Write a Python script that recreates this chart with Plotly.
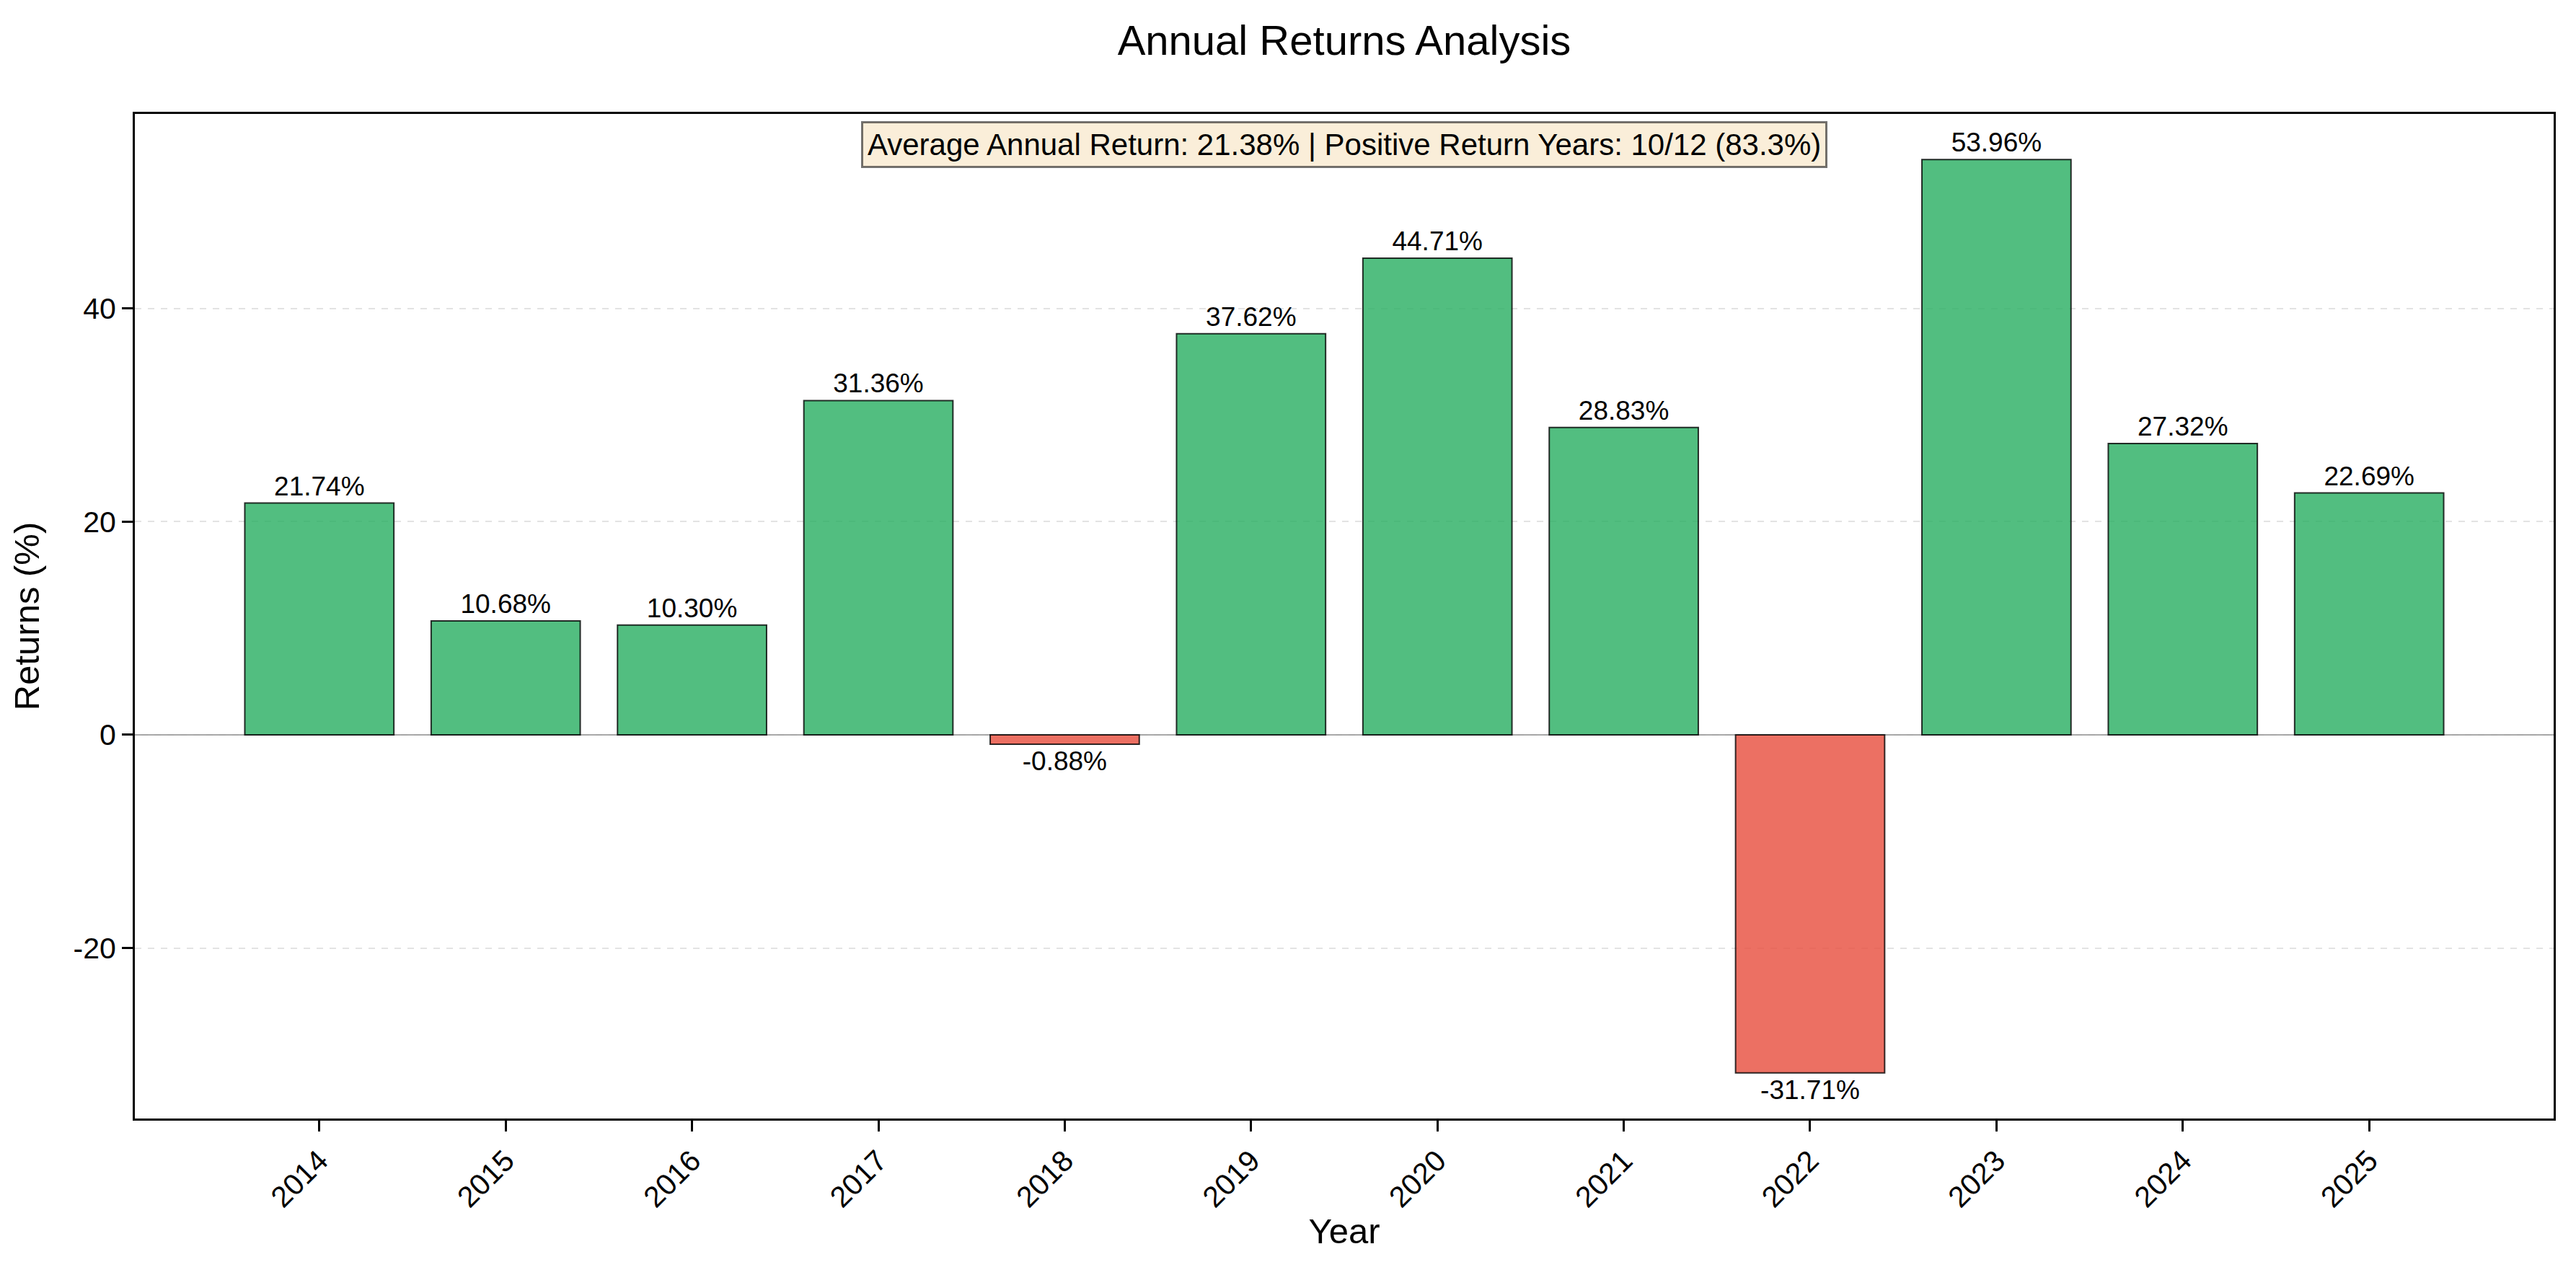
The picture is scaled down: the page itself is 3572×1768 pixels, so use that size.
import plotly.graph_objects as go

years = ["2014", "2015", "2016", "2017", "2018", "2019", "2020", "2021", "2022", "2023", "2024", "2025"]
returns = [21.74, 10.68, 10.30, 31.36, -0.88, 37.62, 44.71, 28.83, -31.71, 53.96, 27.32, 22.69]
ytick_vals = [-20, 0, 20, 40]
avg_return = 21.38
positive_years = 10

summary = (f"Average Annual Return: {avg_return:.2f}% | Positive Return Years: "
           f"{positive_years}/{len(returns)} ({positive_years/len(returns)*100:.1f}%)")

GREEN = "rgba(39,174,96,0.8)"
RED = "rgba(231,76,60,0.8)"
colors = [GREEN if r >= 0 else RED for r in returns]
labels = [f"{r:.2f}%" for r in returns]

FONT = "Liberation Sans, Arial, Helvetica, sans-serif"

fig = go.Figure()
fig.add_trace(go.Bar(
    x=years, y=returns,
    marker=dict(color=colors, line=dict(color="rgba(0,0,0,0.8)", width=2)),
    text=labels, textposition="outside", textangle=0, constraintext="none",
    cliponaxis=False,
    textfont=dict(family=FONT, size=37, color="black"),
    showlegend=False,
))

ymin, ymax = min(returns), max(returns)
pad = (ymax - ymin) * 0.05

fig.add_shape(type="line", xref="paper", yref="y", x0=0, x1=1, y0=0, y1=0,
              line=dict(color="rgba(0,0,0,0.35)", width=2), layer="below")

fig.add_annotation(
    text=summary, xref="paper", yref="paper", x=0.5, y=0.993,
    xanchor="center", yanchor="top", showarrow=False,
    font=dict(family=FONT, size=42, color="black"),
    bgcolor="rgba(245,222,179,0.5)", bordercolor="rgba(0,0,0,0.55)",
    borderwidth=3, borderpad=6,
)

fig.update_layout(
    width=3572, height=1768,
    margin=dict(l=179, r=39, t=150, b=225),
    paper_bgcolor="white", plot_bgcolor="white",
    bargap=0.2,
    font=dict(family=FONT, color="black"),
    title=dict(text="Annual Returns Analysis", x=0.5, xanchor="center", xref="paper",
               y=1 - 48 / 1768, yanchor="middle", yref="container",
               font=dict(family=FONT, size=58, color="black")),
)

fig.update_xaxes(
    type="category", range=[-0.99, 11.99],
    tickangle=-45, tickfont=dict(family=FONT, size=41, color="black"),
    ticks="outside", ticklen=15, tickwidth=3, tickcolor="black",
    showline=True, linecolor="black", linewidth=3, mirror=True,
    showgrid=False,
    title=dict(text="Year", font=dict(family=FONT, size=49, color="black"), standoff=8),
)

fig.update_yaxes(
    range=[ymin - pad, ymax + pad],
    tickvals=ytick_vals, ticktext=[str(v) for v in ytick_vals],
    tickfont=dict(family=FONT, size=41, color="black"),
    ticks="outside", ticklen=15, tickwidth=3, tickcolor="black",
    showline=True, linecolor="black", linewidth=3, mirror=True,
    showgrid=True, gridcolor="rgba(176,176,176,0.35)", griddash="dash", gridwidth=2,
    zeroline=False,
    title=dict(text="Returns (%)", font=dict(family=FONT, size=49, color="black"), standoff=32),
)

fig.write_html("out.html")
